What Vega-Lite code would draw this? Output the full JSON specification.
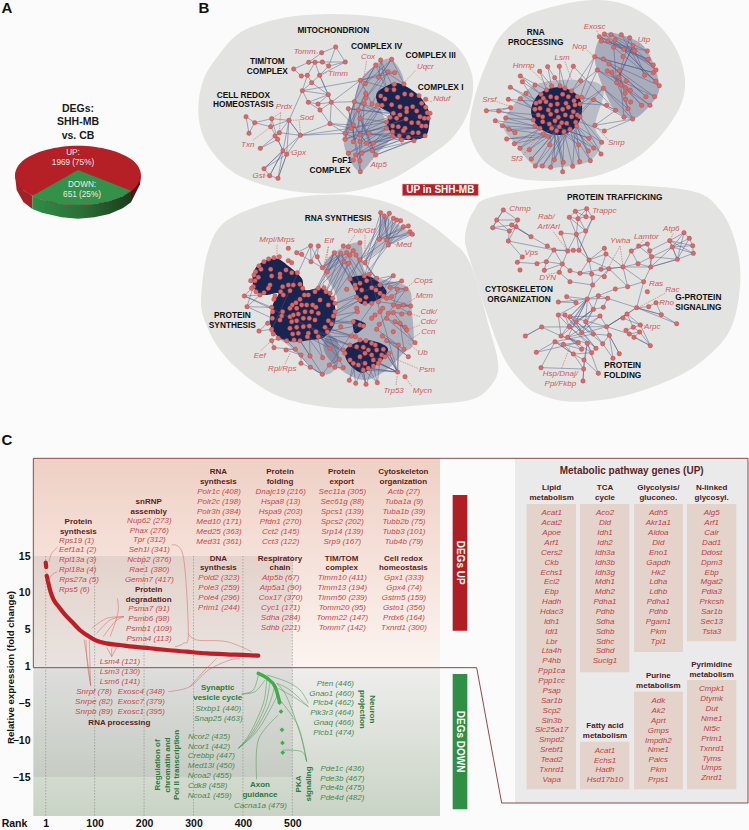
{"$schema":"https://vega.github.io/schema/vega-lite/v6.json","width":749,"height":830,"padding":0,"autosize":{"type":"none"},"background":"#fbfbfb","config":{"view":{"stroke":null},"font":"Liberation Sans"},
"datasets":{
"pieTop":[{"x":423,"y":526},{"x":398,"y":570},{"x":328,"y":603},{"x":234,"y":615},{"x":140,"y":603},{"x":70,"y":570},{"x":45,"y":526},{"x":70,"y":481},{"x":140,"y":449},{"x":234,"y":437},{"x":328,"y":449},{"x":398,"y":481}],
"pieWedge":[{"x":234,"y":510},{"x":97,"y":587},{"x":126,"y":599},{"x":185,"y":612},{"x":234,"y":615},{"x":283,"y":612},{"x":328,"y":603},{"x":368,"y":589},{"x":393,"y":572}],
"pieSideG":[{"x":97,"y":587},{"x":126,"y":599},{"x":185,"y":612},{"x":234,"y":615},{"x":283,"y":612},{"x":328,"y":603},{"x":368,"y":589},{"x":393,"y":572},{"x":393,"y":607},{"x":368,"y":625},{"x":328,"y":642},{"x":283,"y":652},{"x":234,"y":656},{"x":185,"y":652},{"x":126,"y":638},{"x":97,"y":627}],
"pieSideL":[{"x":45,"y":526},{"x":70,"y":570},{"x":97,"y":587},{"x":97,"y":627},{"x":70,"y":606},{"x":50,"y":570}],
"pieSideR":[{"x":393,"y":572},{"x":423,"y":526},{"x":420,"y":553},{"x":393,"y":607}],
"pieHead":[{"label":"DEGs:","x":234,"y":328},{"label":"SHH-MB","x":234,"y":367},{"label":"vs. CB","x":234,"y":407}],
"pieText":[{"label":"UP:","x":219,"y":458},{"label":"1969 (75%)","x":219,"y":488},{"label":"DOWN:","x":246,"y":556},{"label":"651 (25%)","x":246,"y":585}],
"letters":[{"label":"A","x":21,"y":25},{"label":"B","x":612,"y":25},{"label":"C","x":21,"y":1320}],
"hull1":[{"x":200,"y":75},{"x":300,"y":50},{"x":430,"y":42},{"x":560,"y":50},{"x":680,"y":75},{"x":790,"y":130},{"x":845,"y":220},{"x":840,"y":320},{"x":790,"y":410},{"x":700,"y":480},{"x":600,"y":540},{"x":480,"y":575},{"x":350,"y":578},{"x":220,"y":555},{"x":120,"y":510},{"x":50,"y":430},{"x":25,"y":340},{"x":40,"y":240},{"x":90,"y":160},{"x":140,"y":105}],
"hull2":[{"x":300,"y":15},{"x":400,"y":0},{"x":500,"y":15},{"x":590,"y":70},{"x":650,"y":150},{"x":675,"y":240},{"x":660,"y":320},{"x":600,"y":410},{"x":520,"y":480},{"x":420,"y":525},{"x":300,"y":542},{"x":170,"y":535},{"x":80,"y":490},{"x":35,"y":420},{"x":30,"y":360},{"x":50,"y":270},{"x":80,"y":190},{"x":120,"y":110},{"x":190,"y":50}],
"hull3":[{"x":100,"y":100},{"x":200,"y":50},{"x":330,"y":20},{"x":480,"y":15},{"x":600,"y":40},{"x":700,"y":90},{"x":780,"y":150},{"x":840,"y":220},{"x":900,"y":420},{"x":925,"y":530},{"x":900,"y":590},{"x":840,"y":630},{"x":700,"y":645},{"x":550,"y":655},{"x":400,"y":650},{"x":270,"y":620},{"x":170,"y":560},{"x":90,"y":480},{"x":40,"y":380},{"x":35,"y":300},{"x":55,"y":180}],
"hull4":[{"x":70,"y":50},{"x":350,"y":15},{"x":650,"y":30},{"x":750,"y":90},{"x":800,"y":200},{"x":810,"y":320},{"x":780,"y":450},{"x":700,"y":540},{"x":600,"y":600},{"x":450,"y":650},{"x":300,"y":665},{"x":200,"y":640},{"x":150,"y":600},{"x":100,"y":530},{"x":50,"y":400},{"x":0,"y":240},{"x":-15,"y":170},{"x":10,"y":95}],
"n1mid":[{"x":511,"y":241},{"x":557,"y":195},{"x":605,"y":178},{"x":640,"y":250},{"x":560,"y":280},{"x":570,"y":320},{"x":590,"y":370},{"x":610,"y":405},{"x":557,"y":465},{"x":510,"y":515},{"x":470,"y":460},{"x":462,"y":400},{"x":490,"y":310}],
"n1core":[{"x":560,"y":280},{"x":610,"y":250},{"x":650,"y":260},{"x":690,"y":290},{"x":715,"y":330},{"x":718,"y":370},{"x":705,"y":410},{"x":650,"y":420},{"x":610,"y":405},{"x":590,"y":370},{"x":600,"y":340},{"x":570,"y":320}],
"n1edge":[{"x":437,"y":141},{"x":395,"y":158},{"x":356,"y":187},{"x":375,"y":187},{"x":397,"y":186},{"x":466,"y":186},{"x":437,"y":141},{"x":416,"y":198},{"x":397,"y":186},{"x":356,"y":187},{"x":311,"y":207},{"x":334,"y":228},{"x":352,"y":226},{"x":375,"y":187},{"x":389,"y":226},{"x":416,"y":198},{"x":466,"y":186},{"x":389,"y":226},{"x":365,"y":248},{"x":352,"y":226},{"x":337,"y":272},{"x":365,"y":248},{"x":415,"y":284},{"x":337,"y":272},{"x":355,"y":307},{"x":384,"y":312},{"x":424,"y":307},{"x":415,"y":284},{"x":389,"y":226},{"x":424,"y":307},{"x":390,"y":330},{"x":355,"y":307},{"x":415,"y":284},{"x":384,"y":312},{"x":390,"y":330},{"x":420,"y":371},{"x":424,"y":307},{"x":511,"y":241},{"x":337,"y":272},{"x":297,"y":361},{"x":331,"y":406},{"x":297,"y":361},{"x":242,"y":380},{"x":245,"y":356},{"x":297,"y":361},{"x":268,"y":398},{"x":255,"y":408},{"x":263,"y":418},{"x":242,"y":380},{"x":194,"y":368},{"x":168,"y":350},{"x":177,"y":400},{"x":194,"y":368},{"x":245,"y":356},{"x":263,"y":418},{"x":211,"y":445},{"x":268,"y":398},{"x":331,"y":406},{"x":279,"y":452},{"x":297,"y":361},{"x":290,"y":463},{"x":279,"y":452},{"x":263,"y":418},{"x":279,"y":452},{"x":222,"y":506},{"x":290,"y":463},{"x":264,"y":535},{"x":239,"y":527},{"x":222,"y":506},{"x":279,"y":452},{"x":239,"y":527},{"x":279,"y":452},{"x":264,"y":535},{"x":290,"y":463},{"x":331,"y":406},{"x":420,"y":371},{"x":465,"y":400},{"x":331,"y":406},{"x":483,"y":385},{"x":420,"y":371},{"x":490,"y":375},{"x":424,"y":307},{"x":493,"y":305},{"x":557,"y":195},{"x":526,"y":251},{"x":605,"y":178},{"x":566,"y":232},{"x":572,"y":180},{"x":511,"y":241},{"x":614,"y":218},{"x":594,"y":215},{"x":527,"y":295},{"x":605,"y":178},{"x":642,"y":252},{"x":557,"y":195},{"x":590,"y":269},{"x":572,"y":180},{"x":612,"y":269},{"x":511,"y":241},{"x":546,"y":312},{"x":594,"y":215},{"x":511,"y":241},{"x":465,"y":400},{"x":527,"y":280},{"x":465,"y":418},{"x":493,"y":305},{"x":490,"y":425},{"x":523,"y":310},{"x":510,"y":482},{"x":475,"y":326},{"x":511,"y":515},{"x":505,"y":330},{"x":557,"y":465},{"x":510,"y":355},{"x":547,"y":452},{"x":490,"y":375},{"x":530,"y":430},{"x":465,"y":400},{"x":590,"y":385},{"x":475,"y":460},{"x":608,"y":395},{"x":497,"y":465},{"x":628,"y":408},{"x":515,"y":460},{"x":655,"y":412},{"x":547,"y":452},{"x":672,"y":422},{"x":557,"y":465},{"x":705,"y":407},{"x":530,"y":430},{"x":668,"y":398},{"x":510,"y":405},{"x":648,"y":357},{"x":465,"y":418},{"x":630,"y":345},{"x":475,"y":326},{"x":610,"y":340},{"x":493,"y":305},{"x":600,"y":352},{"x":483,"y":385},{"x":590,"y":366},{"x":510,"y":355},{"x":563,"y":315},{"x":490,"y":425},{"x":576,"y":316},{"x":510,"y":425},{"x":590,"y":385},{"x":550,"y":430},{"x":608,"y":408},{"x":537,"y":400},{"x":635,"y":420}],
"n1node":[{"x":437,"y":141},{"x":395,"y":158},{"x":356,"y":187},{"x":375,"y":187},{"x":397,"y":186},{"x":466,"y":186},{"x":311,"y":207},{"x":416,"y":198},{"x":334,"y":228},{"x":352,"y":226},{"x":389,"y":226},{"x":365,"y":248},{"x":337,"y":272},{"x":415,"y":284},{"x":355,"y":307},{"x":384,"y":312},{"x":424,"y":307},{"x":390,"y":330},{"x":420,"y":371},{"x":168,"y":350},{"x":194,"y":368},{"x":245,"y":356},{"x":297,"y":361},{"x":242,"y":380},{"x":177,"y":400},{"x":268,"y":398},{"x":255,"y":408},{"x":263,"y":418},{"x":331,"y":406},{"x":211,"y":445},{"x":279,"y":452},{"x":290,"y":463},{"x":222,"y":506},{"x":239,"y":527},{"x":264,"y":535},{"x":557,"y":195},{"x":572,"y":180},{"x":605,"y":178},{"x":594,"y":215},{"x":614,"y":218},{"x":566,"y":232},{"x":511,"y":241},{"x":526,"y":251},{"x":642,"y":252},{"x":613,"y":253},{"x":612,"y":269},{"x":590,"y":269},{"x":572,"y":288},{"x":585,"y":297},{"x":527,"y":280},{"x":527,"y":295},{"x":493,"y":305},{"x":523,"y":310},{"x":563,"y":315},{"x":546,"y":312},{"x":576,"y":316},{"x":605,"y":314},{"x":623,"y":292},{"x":644,"y":282},{"x":664,"y":284},{"x":687,"y":287},{"x":707,"y":298},{"x":695,"y":310},{"x":707,"y":322},{"x":712,"y":338},{"x":720,"y":340},{"x":630,"y":320},{"x":650,"y":325},{"x":668,"y":320},{"x":680,"y":333},{"x":610,"y":340},{"x":630,"y":345},{"x":650,"y":335},{"x":690,"y":350},{"x":703,"y":355},{"x":715,"y":355},{"x":600,"y":352},{"x":620,"y":355},{"x":648,"y":357},{"x":590,"y":366},{"x":608,"y":378},{"x":625,"y":380},{"x":665,"y":368},{"x":685,"y":368},{"x":695,"y":378},{"x":708,"y":378},{"x":590,"y":385},{"x":645,"y":385},{"x":668,"y":398},{"x":685,"y":398},{"x":608,"y":395},{"x":608,"y":408},{"x":640,"y":392},{"x":628,"y":408},{"x":635,"y":420},{"x":655,"y":412},{"x":672,"y":422},{"x":705,"y":407},{"x":475,"y":326},{"x":505,"y":330},{"x":510,"y":355},{"x":490,"y":375},{"x":483,"y":385},{"x":465,"y":400},{"x":510,"y":405},{"x":537,"y":400},{"x":465,"y":418},{"x":490,"y":425},{"x":510,"y":425},{"x":530,"y":430},{"x":550,"y":430},{"x":475,"y":460},{"x":497,"y":465},{"x":515,"y":460},{"x":547,"y":452},{"x":557,"y":465},{"x":510,"y":482},{"x":490,"y":480},{"x":511,"y":515}],
"n1head":[{"label":"MITOCHONDRION","x":430,"y":94},{"label":"COMPLEX IV","x":560,"y":140},{"label":"COMPLEX III","x":722,"y":167},{"label":"COMPLEX I","x":752,"y":265},{"label":"TIM/TOM","x":232,"y":186},{"label":"COMPLEX","x":232,"y":215},{"label":"CELL REDOX","x":160,"y":287},{"label":"HOMEOSTASIS","x":160,"y":316},{"label":"FoF1","x":456,"y":483},{"label":"COMPLEX","x":420,"y":513}],
"n1gene":[{"label":"Tomm","x":344,"y":156},{"label":"Cox","x":534,"y":170},{"label":"Uqcr","x":706,"y":202},{"label":"Nduf","x":755,"y":296},{"label":"Timm","x":444,"y":221},{"label":"Prdx","x":282,"y":322},{"label":"Sod","x":350,"y":354},{"label":"Txn","x":173,"y":436},{"label":"Gpx","x":326,"y":459},{"label":"Gst","x":206,"y":528},{"label":"Atp5","x":566,"y":494}],
"n1lead":[{"x":530,"y":183,"x2":520,"y2":240},{"x":676,"y":212,"x2":640,"y2":250},{"x":725,"y":305,"x2":705,"y2":300},{"x":272,"y":338,"x2":245,"y2":356},{"x":272,"y":338,"x2":268,"y2":398},{"x":328,"y":360,"x2":297,"y2":361},{"x":328,"y":365,"x2":331,"y2":400},{"x":190,"y":420,"x2":240,"y2":382},{"x":372,"y":160,"x2":395,"y2":158},{"x":410,"y":218,"x2":390,"y2":225},{"x":305,"y":455,"x2":290,"y2":462},{"x":222,"y":528,"x2":239,"y2":527},{"x":545,"y":480,"x2":557,"y2":465}],
"upBox":[{"x":637,"y":552,"x2":865,"y2":587}],
"upText":[{"label":"UP in SHH-MB","x":751,"y":569}],
"n2core":[{"x":215,"y":320},{"x":240,"y":280},{"x":290,"y":262},{"x":340,"y":275},{"x":365,"y":310},{"x":360,"y":360},{"x":330,"y":395},{"x":285,"y":405},{"x":240,"y":385},{"x":218,"y":355}],
"n2mid":[{"x":404,"y":170},{"x":433,"y":102},{"x":509,"y":113},{"x":562,"y":153},{"x":598,"y":257},{"x":570,"y":316},{"x":518,"y":357},{"x":467,"y":331},{"x":430,"y":265}],
"n2out":[{"x":150,"y":330},{"x":225,"y":255},{"x":350,"y":240},{"x":430,"y":265},{"x":405,"y":376},{"x":425,"y":427},{"x":390,"y":482},{"x":310,"y":500},{"x":226,"y":498},{"x":165,"y":430},{"x":130,"y":380}],
"n2edge":[{"x":433,"y":102},{"x":491,"y":148},{"x":418,"y":110},{"x":524,"y":152},{"x":453,"y":104},{"x":562,"y":153},{"x":424,"y":123},{"x":565,"y":178},{"x":443,"y":123},{"x":580,"y":195},{"x":465,"y":120},{"x":588,"y":210},{"x":484,"y":104},{"x":554,"y":226},{"x":509,"y":113},{"x":476,"y":231},{"x":519,"y":137},{"x":470,"y":248},{"x":461,"y":142},{"x":587,"y":244},{"x":491,"y":148},{"x":598,"y":257},{"x":404,"y":170},{"x":580,"y":218},{"x":430,"y":177},{"x":558,"y":290},{"x":447,"y":192},{"x":584,"y":290},{"x":412,"y":210},{"x":570,"y":316},{"x":442,"y":213},{"x":545,"y":316},{"x":456,"y":217},{"x":518,"y":357},{"x":430,"y":265},{"x":504,"y":326},{"x":478,"y":212},{"x":492,"y":352},{"x":401,"y":299},{"x":467,"y":331},{"x":440,"y":316},{"x":365,"y":310},{"x":430,"y":265},{"x":350,"y":345},{"x":412,"y":210},{"x":335,"y":273},{"x":404,"y":170},{"x":360,"y":292},{"x":401,"y":299},{"x":345,"y":360},{"x":433,"y":393},{"x":518,"y":357},{"x":405,"y":376},{"x":467,"y":331},{"x":340,"y":199},{"x":315,"y":265},{"x":298,"y":199},{"x":300,"y":258},{"x":263,"y":200},{"x":275,"y":258},{"x":239,"y":214},{"x":260,"y":270},{"x":181,"y":228},{"x":243,"y":283},{"x":187,"y":245},{"x":228,"y":310},{"x":151,"y":262},{"x":240,"y":305},{"x":145,"y":298},{"x":225,"y":328},{"x":181,"y":296},{"x":235,"y":345},{"x":79,"y":332},{"x":152,"y":323},{"x":116,"y":333},{"x":220,"y":360},{"x":137,"y":354},{"x":225,"y":378},{"x":106,"y":362},{"x":165,"y":398},{"x":127,"y":377},{"x":240,"y":385},{"x":147,"y":388},{"x":250,"y":402},{"x":140,"y":417},{"x":263,"y":409},{"x":163,"y":431},{"x":240,"y":385},{"x":180,"y":445},{"x":275,"y":385},{"x":208,"y":449},{"x":290,"y":392},{"x":214,"y":477},{"x":298,"y":380},{"x":226,"y":498},{"x":312,"y":395},{"x":247,"y":498},{"x":330,"y":388},{"x":272,"y":502},{"x":290,"y":392},{"x":308,"y":515},{"x":312,"y":395},{"x":338,"y":499},{"x":347,"y":367},{"x":359,"y":485},{"x":330,"y":388},{"x":391,"y":482},{"x":350,"y":378},{"x":423,"y":462},{"x":360,"y":350},{"x":425,"y":427},{"x":350,"y":378},{"x":385,"y":453},{"x":320,"y":370},{"x":401,"y":444},{"x":312,"y":395},{"x":283,"y":479},{"x":285,"y":362},{"x":310,"y":487},{"x":275,"y":385},{"x":269,"y":434},{"x":298,"y":380},{"x":356,"y":435},{"x":268,"y":372},{"x":387,"y":415},{"x":248,"y":365}],
"n2node":[{"x":433,"y":102},{"x":418,"y":110},{"x":453,"y":104},{"x":484,"y":104},{"x":509,"y":113},{"x":424,"y":123},{"x":443,"y":123},{"x":465,"y":120},{"x":519,"y":137},{"x":461,"y":142},{"x":491,"y":148},{"x":524,"y":152},{"x":562,"y":153},{"x":404,"y":170},{"x":430,"y":177},{"x":489,"y":170},{"x":565,"y":178},{"x":447,"y":192},{"x":580,"y":195},{"x":412,"y":210},{"x":442,"y":213},{"x":456,"y":217},{"x":478,"y":212},{"x":554,"y":226},{"x":580,"y":218},{"x":588,"y":210},{"x":476,"y":231},{"x":499,"y":243},{"x":470,"y":248},{"x":483,"y":255},{"x":587,"y":244},{"x":598,"y":257},{"x":496,"y":264},{"x":511,"y":271},{"x":495,"y":280},{"x":430,"y":265},{"x":558,"y":290},{"x":584,"y":290},{"x":497,"y":298},{"x":512,"y":306},{"x":440,"y":316},{"x":467,"y":331},{"x":504,"y":326},{"x":545,"y":316},{"x":570,"y":316},{"x":492,"y":352},{"x":518,"y":357},{"x":401,"y":299},{"x":239,"y":214},{"x":263,"y":200},{"x":298,"y":199},{"x":340,"y":199},{"x":181,"y":228},{"x":284,"y":233},{"x":187,"y":245},{"x":151,"y":262},{"x":225,"y":255},{"x":362,"y":242},{"x":198,"y":280},{"x":145,"y":298},{"x":181,"y":296},{"x":79,"y":332},{"x":116,"y":333},{"x":152,"y":323},{"x":137,"y":354},{"x":106,"y":362},{"x":127,"y":377},{"x":147,"y":388},{"x":165,"y":398},{"x":140,"y":417},{"x":163,"y":431},{"x":180,"y":445},{"x":208,"y":449},{"x":214,"y":477},{"x":226,"y":498},{"x":247,"y":498},{"x":272,"y":502},{"x":283,"y":479},{"x":308,"y":515},{"x":310,"y":487},{"x":338,"y":499},{"x":359,"y":485},{"x":391,"y":482},{"x":423,"y":462},{"x":385,"y":453},{"x":401,"y":444},{"x":425,"y":427},{"x":433,"y":393},{"x":387,"y":415},{"x":405,"y":376},{"x":269,"y":434},{"x":356,"y":435},{"x":250,"y":402},{"x":263,"y":409},{"x":243,"y":283},{"x":260,"y":270},{"x":275,"y":258},{"x":300,"y":258},{"x":315,"y":265},{"x":335,"y":273},{"x":352,"y":290},{"x":365,"y":292},{"x":250,"y":295},{"x":272,"y":290},{"x":290,"y":293},{"x":308,"y":283},{"x":325,"y":290},{"x":342,"y":302},{"x":240,"y":305},{"x":258,"y":305},{"x":272,"y":315},{"x":292,"y":312},{"x":318,"y":310},{"x":345,"y":315},{"x":360,"y":312},{"x":228,"y":310},{"x":225,"y":328},{"x":240,"y":325},{"x":265,"y":330},{"x":290,"y":333},{"x":308,"y":328},{"x":325,"y":322},{"x":340,"y":335},{"x":352,"y":345},{"x":360,"y":350},{"x":235,"y":345},{"x":248,"y":350},{"x":272,"y":343},{"x":295,"y":352},{"x":316,"y":345},{"x":335,"y":350},{"x":220,"y":360},{"x":248,"y":365},{"x":268,"y":372},{"x":285,"y":362},{"x":305,"y":368},{"x":320,"y":370},{"x":347,"y":367},{"x":225,"y":378},{"x":240,"y":385},{"x":275,"y":385},{"x":290,"y":392},{"x":312,"y":395},{"x":330,"y":388},{"x":298,"y":380},{"x":350,"y":378}],
"n2head":[{"label":"RNA","x":227,"y":100},{"label":"PROCESSING","x":227,"y":130}],
"n2gene":[{"label":"Exosc","x":404,"y":81},{"label":"Utp","x":552,"y":120},{"label":"Nop","x":359,"y":140},{"label":"Lsm","x":306,"y":173},{"label":"Hnrnp","x":191,"y":197},{"label":"Srsf","x":88,"y":301},{"label":"Snrp","x":469,"y":428},{"label":"Sf3","x":170,"y":478}],
"n2lead":[{"x":410,"y":92,"x2":418,"y2":108},{"x":540,"y":130,"x2":525,"y2":150},{"x":380,"y":150,"x2":404,"y2":170},{"x":315,"y":185,"x2":335,"y2":240},{"x":215,"y":210,"x2":260,"y2":255},{"x":110,"y":305,"x2":152,"y2":320},{"x":445,"y":420,"x2":405,"y2":376},{"x":190,"y":465,"x2":225,"y2":420}],
"n3a":[{"x":205,"y":225},{"x":255,"y":205},{"x":295,"y":228},{"x":335,"y":265},{"x":345,"y":300},{"x":395,"y":295},{"x":430,"y":330},{"x":435,"y":395},{"x":405,"y":440},{"x":360,"y":450},{"x":310,"y":455},{"x":265,"y":440},{"x":240,"y":400},{"x":248,"y":345},{"x":265,"y":310},{"x":225,"y":315},{"x":195,"y":300},{"x":188,"y":260}],
"n3b":[{"x":480,"y":265},{"x":540,"y":260},{"x":590,"y":305},{"x":550,"y":335},{"x":510,"y":340},{"x":495,"y":300}],
"n3c":[{"x":475,"y":470},{"x":530,"y":450},{"x":590,"y":470},{"x":585,"y":500},{"x":550,"y":530},{"x":515,"y":548},{"x":480,"y":525},{"x":465,"y":495}],
"n3d":[{"x":490,"y":390},{"x":525,"y":400},{"x":520,"y":415},{"x":495,"y":430}],
"n3m1":[{"x":430,"y":190},{"x":510,"y":160},{"x":530,"y":250},{"x":650,"y":290},{"x":665,"y":360},{"x":670,"y":460},{"x":640,"y":490},{"x":590,"y":540},{"x":520,"y":570},{"x":440,"y":530},{"x":400,"y":470},{"x":430,"y":400},{"x":440,"y":320},{"x":400,"y":240}],
"n3m2":[{"x":570,"y":150},{"x":570,"y":70},{"x":665,"y":130},{"x":595,"y":165},{"x":520,"y":215}],
"n3m3":[{"x":240,"y":420},{"x":300,"y":470},{"x":390,"y":550},{"x":440,"y":530},{"x":440,"y":450},{"x":380,"y":440}],
"n3edge":[{"x":572,"y":68},{"x":568,"y":148},{"x":598,"y":70},{"x":590,"y":150},{"x":583,"y":78},{"x":595,"y":165},{"x":610,"y":85},{"x":568,"y":148},{"x":620,"y":90},{"x":590,"y":150},{"x":632,"y":92},{"x":595,"y":165},{"x":640,"y":110},{"x":568,"y":148},{"x":655,"y":108},{"x":590,"y":150},{"x":660,"y":125},{"x":595,"y":165},{"x":667,"y":133},{"x":568,"y":148},{"x":572,"y":68},{"x":525,"y":218},{"x":598,"y":70},{"x":510,"y":210},{"x":583,"y":78},{"x":523,"y":258},{"x":595,"y":165},{"x":525,"y":218},{"x":568,"y":148},{"x":510,"y":210},{"x":590,"y":150},{"x":538,"y":253},{"x":623,"y":546},{"x":580,"y":478},{"x":623,"y":546},{"x":550,"y":510},{"x":623,"y":546},{"x":597,"y":490},{"x":623,"y":546},{"x":565,"y":520},{"x":623,"y":546},{"x":535,"y":535},{"x":623,"y":546},{"x":625,"y":465},{"x":623,"y":546},{"x":520,"y":540},{"x":528,"y":583},{"x":505,"y":525},{"x":562,"y":578},{"x":525,"y":520},{"x":497,"y":580},{"x":490,"y":520},{"x":478,"y":571},{"x":510,"y":500},{"x":528,"y":583},{"x":550,"y":528},{"x":562,"y":578},{"x":570,"y":510},{"x":163,"y":318},{"x":190,"y":290},{"x":171,"y":350},{"x":210,"y":315},{"x":163,"y":318},{"x":245,"y":352},{"x":171,"y":350},{"x":247,"y":385},{"x":207,"y":423},{"x":245,"y":418},{"x":362,"y":167},{"x":363,"y":215},{"x":385,"y":168},{"x":382,"y":200},{"x":397,"y":233},{"x":362,"y":167},{"x":320,"y":188},{"x":397,"y":233},{"x":433,"y":188},{"x":412,"y":245},{"x":452,"y":190},{"x":397,"y":233},{"x":470,"y":188},{"x":412,"y":245},{"x":490,"y":182},{"x":385,"y":295},{"x":433,"y":188},{"x":375,"y":305},{"x":452,"y":190},{"x":408,"y":305},{"x":462,"y":215},{"x":420,"y":310},{"x":476,"y":220},{"x":428,"y":325},{"x":510,"y":210},{"x":480,"y":267},{"x":433,"y":188},{"x":495,"y":285},{"x":452,"y":190},{"x":510,"y":280},{"x":470,"y":188},{"x":530,"y":272},{"x":498,"y":195},{"x":560,"y":265},{"x":525,"y":218},{"x":570,"y":285},{"x":435,"y":340},{"x":500,"y":322},{"x":435,"y":365},{"x":510,"y":330},{"x":430,"y":378},{"x":502,"y":365},{"x":425,"y":402},{"x":490,"y":395},{"x":415,"y":392},{"x":510,"y":405},{"x":412,"y":425},{"x":485,"y":438},{"x":405,"y":412},{"x":497,"y":440},{"x":385,"y":440},{"x":480,"y":465},{"x":378,"y":425},{"x":465,"y":490},{"x":385,"y":440},{"x":460,"y":480},{"x":412,"y":425},{"x":448,"y":508},{"x":378,"y":425},{"x":398,"y":503},{"x":352,"y":440},{"x":420,"y":475},{"x":358,"y":408},{"x":360,"y":498},{"x":330,"y":452},{"x":397,"y":553},{"x":361,"y":532},{"x":333,"y":520},{"x":333,"y":495},{"x":288,"y":480},{"x":316,"y":478},{"x":252,"y":473},{"x":245,"y":452},{"x":265,"y":445},{"x":290,"y":452},{"x":316,"y":478},{"x":361,"y":532},{"x":397,"y":553},{"x":418,"y":525},{"x":435,"y":532},{"x":460,"y":533},{"x":448,"y":508},{"x":418,"y":525},{"x":610,"y":257},{"x":570,"y":285},{"x":635,"y":273},{"x":600,"y":292},{"x":648,"y":297},{"x":622,"y":298},{"x":610,"y":345},{"x":662,"y":348},{"x":625,"y":350},{"x":658,"y":370},{"x":610,"y":368},{"x":650,"y":420},{"x":615,"y":395},{"x":645,"y":412},{"x":590,"y":385},{"x":675,"y":458},{"x":630,"y":400},{"x":642,"y":478},{"x":577,"y":438},{"x":655,"y":500},{"x":590,"y":452},{"x":625,"y":465},{"x":560,"y":418},{"x":648,"y":297},{"x":590,"y":325},{"x":662,"y":348},{"x":565,"y":335},{"x":635,"y":273},{"x":545,"y":293},{"x":610,"y":257},{"x":530,"y":272}],
"n3node":[{"x":295,"y":175},{"x":320,"y":188},{"x":335,"y":193},{"x":268,"y":200},{"x":252,"y":203},{"x":236,"y":207},{"x":222,"y":215},{"x":207,"y":228},{"x":295,"y":212},{"x":305,"y":218},{"x":242,"y":238},{"x":213,"y":238},{"x":197,"y":245},{"x":192,"y":255},{"x":205,"y":262},{"x":195,"y":272},{"x":182,"y":272},{"x":190,"y":290},{"x":185,"y":295},{"x":198,"y":305},{"x":210,"y":315},{"x":222,"y":308},{"x":163,"y":318},{"x":171,"y":350},{"x":288,"y":240},{"x":305,"y":248},{"x":322,"y":248},{"x":270,"y":252},{"x":270,"y":262},{"x":245,"y":258},{"x":240,"y":285},{"x":235,"y":295},{"x":255,"y":318},{"x":252,"y":328},{"x":278,"y":290},{"x":295,"y":285},{"x":310,"y":285},{"x":330,"y":283},{"x":338,"y":295},{"x":272,"y":305},{"x":280,"y":315},{"x":300,"y":302},{"x":343,"y":315},{"x":355,"y":315},{"x":330,"y":328},{"x":318,"y":338},{"x":307,"y":345},{"x":300,"y":355},{"x":320,"y":355},{"x":335,"y":345},{"x":350,"y":345},{"x":368,"y":345},{"x":378,"y":352},{"x":385,"y":295},{"x":402,"y":293},{"x":375,"y":305},{"x":408,"y":305},{"x":420,"y":310},{"x":428,"y":325},{"x":390,"y":330},{"x":435,"y":340},{"x":415,"y":345},{"x":245,"y":352},{"x":248,"y":365},{"x":278,"y":365},{"x":275,"y":378},{"x":270,"y":390},{"x":247,"y":385},{"x":233,"y":400},{"x":207,"y":423},{"x":245,"y":418},{"x":250,"y":432},{"x":245,"y":452},{"x":252,"y":473},{"x":300,"y":380},{"x":310,"y":375},{"x":325,"y":372},{"x":345,"y":365},{"x":365,"y":365},{"x":385,"y":370},{"x":435,"y":365},{"x":430,"y":378},{"x":415,"y":392},{"x":425,"y":402},{"x":305,"y":395},{"x":320,"y":392},{"x":340,"y":385},{"x":358,"y":385},{"x":375,"y":390},{"x":405,"y":412},{"x":412,"y":425},{"x":300,"y":415},{"x":320,"y":412},{"x":340,"y":410},{"x":358,"y":408},{"x":308,"y":432},{"x":325,"y":430},{"x":355,"y":430},{"x":378,"y":425},{"x":385,"y":440},{"x":312,"y":450},{"x":330,"y":452},{"x":352,"y":440},{"x":290,"y":452},{"x":265,"y":445},{"x":316,"y":478},{"x":288,"y":480},{"x":333,"y":495},{"x":333,"y":520},{"x":361,"y":532},{"x":397,"y":553},{"x":360,"y":498},{"x":398,"y":503},{"x":420,"y":475},{"x":418,"y":525},{"x":435,"y":532},{"x":460,"y":533},{"x":448,"y":508},{"x":460,"y":480},{"x":362,"y":167},{"x":385,"y":168},{"x":382,"y":200},{"x":363,"y":215},{"x":397,"y":233},{"x":412,"y":245},{"x":572,"y":68},{"x":598,"y":70},{"x":583,"y":78},{"x":610,"y":85},{"x":620,"y":90},{"x":632,"y":92},{"x":640,"y":110},{"x":655,"y":108},{"x":660,"y":125},{"x":667,"y":133},{"x":568,"y":148},{"x":590,"y":150},{"x":595,"y":165},{"x":510,"y":158},{"x":460,"y":168},{"x":475,"y":170},{"x":433,"y":188},{"x":452,"y":190},{"x":470,"y":188},{"x":490,"y":182},{"x":498,"y":195},{"x":480,"y":195},{"x":510,"y":210},{"x":462,"y":215},{"x":476,"y":220},{"x":525,"y":218},{"x":523,"y":258},{"x":538,"y":253},{"x":610,"y":257},{"x":635,"y":273},{"x":648,"y":297},{"x":480,"y":267},{"x":560,"y":265},{"x":530,"y":272},{"x":495,"y":285},{"x":510,"y":280},{"x":570,"y":285},{"x":470,"y":298},{"x":498,"y":295},{"x":515,"y":300},{"x":545,"y":293},{"x":558,"y":300},{"x":600,"y":292},{"x":622,"y":298},{"x":570,"y":310},{"x":580,"y":318},{"x":528,"y":322},{"x":500,"y":322},{"x":510,"y":330},{"x":525,"y":340},{"x":545,"y":340},{"x":565,"y":335},{"x":590,"y":325},{"x":605,"y":320},{"x":610,"y":345},{"x":625,"y":350},{"x":640,"y":345},{"x":662,"y":348},{"x":500,"y":355},{"x":502,"y":365},{"x":578,"y":355},{"x":570,"y":365},{"x":595,"y":370},{"x":555,"y":375},{"x":610,"y":368},{"x":635,"y":372},{"x":658,"y":370},{"x":590,"y":385},{"x":545,"y":385},{"x":615,"y":395},{"x":630,"y":400},{"x":645,"y":412},{"x":490,"y":395},{"x":510,"y":405},{"x":520,"y":408},{"x":452,"y":410},{"x":568,"y":403},{"x":560,"y":418},{"x":650,"y":420},{"x":610,"y":425},{"x":485,"y":438},{"x":497,"y":440},{"x":528,"y":452},{"x":577,"y":438},{"x":590,"y":452},{"x":510,"y":450},{"x":545,"y":460},{"x":556,"y":465},{"x":625,"y":465},{"x":642,"y":478},{"x":675,"y":458},{"x":655,"y":500},{"x":480,"y":465},{"x":500,"y":470},{"x":520,"y":472},{"x":535,"y":480},{"x":560,"y":480},{"x":580,"y":478},{"x":597,"y":490},{"x":465,"y":490},{"x":480,"y":510},{"x":510,"y":500},{"x":525,"y":490},{"x":545,"y":495},{"x":575,"y":495},{"x":490,"y":520},{"x":505,"y":525},{"x":525,"y":520},{"x":550,"y":510},{"x":570,"y":510},{"x":585,"y":500},{"x":520,"y":540},{"x":535,"y":535},{"x":550,"y":528},{"x":565,"y":520},{"x":623,"y":546},{"x":645,"y":560},{"x":478,"y":571},{"x":497,"y":580},{"x":528,"y":583},{"x":562,"y":578}],
"n3head":[{"label":"RNA SYNTHESIS","x":445,"y":87},{"label":"PROTEIN","x":127,"y":378},{"label":"SYNTHESIS","x":127,"y":407}],
"n3gene":[{"label":"Polr/Gtf","x":515,"y":123},{"label":"Mrpl/Mrps","x":261,"y":150},{"label":"Eif","x":417,"y":154},{"label":"Med","x":642,"y":166},{"label":"Cops","x":700,"y":272},{"label":"Mcm","x":703,"y":318},{"label":"Cdk/","x":716,"y":366},{"label":"Cdc/","x":716,"y":396},{"label":"Ccn","x":715,"y":426},{"label":"Ub","x":698,"y":489},{"label":"Psm","x":711,"y":541},{"label":"Mycn","x":697,"y":603},{"label":"Trp53","x":611,"y":603},{"label":"Eef","x":209,"y":498},{"label":"Rpl/Rps","x":277,"y":537}],
"n3lead":[{"x":495,"y":135,"x2":470,"y2":170},{"x":525,"y":135,"x2":525,"y2":215},{"x":261,"y":165,"x2":261,"y2":200},{"x":415,"y":170,"x2":400,"y2":233},{"x":415,"y":170,"x2":400,"y2":285},{"x":620,"y":165,"x2":600,"y2":155},{"x":672,"y":275,"x2":648,"y2":295},{"x":675,"y":325,"x2":640,"y2":345},{"x":690,"y":380,"x2":660,"y2":370},{"x":690,"y":405,"x2":650,"y2":420},{"x":690,"y":430,"x2":650,"y2":455},{"x":682,"y":482,"x2":655,"y2":460},{"x":683,"y":535,"x2":600,"y2":500},{"x":665,"y":588,"x2":650,"y2":568},{"x":618,"y":585,"x2":622,"y2":555},{"x":212,"y":482,"x2":245,"y2":452},{"x":285,"y":522,"x2":300,"y2":490}],
"n4edge":[{"x":100,"y":90},{"x":80,"y":120},{"x":143,"y":120},{"x":125,"y":135},{"x":68,"y":143},{"x":100,"y":90},{"x":143,"y":120},{"x":138,"y":140},{"x":118,"y":153},{"x":80,"y":120},{"x":68,"y":143},{"x":118,"y":153},{"x":115,"y":183},{"x":138,"y":140},{"x":183,"y":170},{"x":125,"y":135},{"x":183,"y":170},{"x":232,"y":198},{"x":252,"y":210},{"x":115,"y":183},{"x":157,"y":231},{"x":142,"y":247},{"x":201,"y":251},{"x":229,"y":245},{"x":252,"y":210},{"x":277,"y":252},{"x":229,"y":245},{"x":223,"y":271},{"x":277,"y":252},{"x":293,"y":213},{"x":252,"y":210},{"x":310,"y":211},{"x":327,"y":211},{"x":319,"y":163},{"x":293,"y":213},{"x":273,"y":159},{"x":319,"y":163},{"x":347,"y":153},{"x":316,"y":94},{"x":350,"y":86},{"x":368,"y":113},{"x":348,"y":110},{"x":324,"y":116},{"x":298,"y":112},{"x":316,"y":94},{"x":348,"y":110},{"x":350,"y":86},{"x":324,"y":116},{"x":319,"y":163},{"x":298,"y":112},{"x":347,"y":153},{"x":368,"y":113},{"x":327,"y":211},{"x":357,"y":240},{"x":403,"y":205},{"x":408,"y":222},{"x":357,"y":240},{"x":417,"y":266},{"x":459,"y":261},{"x":408,"y":222},{"x":393,"y":268},{"x":417,"y":266},{"x":403,"y":290},{"x":365,"y":282},{"x":330,"y":280},{"x":300,"y":272},{"x":277,"y":252},{"x":268,"y":277},{"x":300,"y":305},{"x":368,"y":315},{"x":365,"y":282},{"x":357,"y":240},{"x":319,"y":163},{"x":357,"y":240},{"x":330,"y":280},{"x":393,"y":268},{"x":459,"y":261},{"x":484,"y":213},{"x":506,"y":198},{"x":532,"y":192},{"x":539,"y":212},{"x":545,"y":230},{"x":504,"y":251},{"x":484,"y":213},{"x":532,"y":192},{"x":506,"y":198},{"x":545,"y":230},{"x":542,"y":261},{"x":459,"y":261},{"x":504,"y":251},{"x":542,"y":261},{"x":539,"y":212},{"x":599,"y":182},{"x":642,"y":158},{"x":658,"y":175},{"x":668,"y":197},{"x":670,"y":220},{"x":622,"y":238},{"x":607,"y":201},{"x":599,"y":182},{"x":668,"y":197},{"x":607,"y":201},{"x":642,"y":158},{"x":622,"y":238},{"x":658,"y":175},{"x":607,"y":201},{"x":670,"y":220},{"x":599,"y":182},{"x":622,"y":238},{"x":545,"y":230},{"x":607,"y":201},{"x":542,"y":261},{"x":622,"y":238},{"x":542,"y":261},{"x":521,"y":305},{"x":473,"y":320},{"x":436,"y":327},{"x":385,"y":347},{"x":352,"y":357},{"x":368,"y":315},{"x":417,"y":266},{"x":473,"y":320},{"x":459,"y":261},{"x":521,"y":305},{"x":500,"y":383},{"x":413,"y":355},{"x":352,"y":357},{"x":290,"y":350},{"x":318,"y":368},{"x":265,"y":366},{"x":352,"y":357},{"x":370,"y":388},{"x":400,"y":382},{"x":413,"y":355},{"x":385,"y":347},{"x":370,"y":388},{"x":318,"y":425},{"x":352,"y":357},{"x":300,"y":410},{"x":352,"y":357},{"x":347,"y":425},{"x":370,"y":388},{"x":298,"y":440},{"x":352,"y":357},{"x":265,"y":405},{"x":285,"y":405},{"x":335,"y":458},{"x":370,"y":388},{"x":273,"y":468},{"x":352,"y":357},{"x":293,"y":472},{"x":390,"y":408},{"x":410,"y":440},{"x":500,"y":383},{"x":536,"y":380},{"x":558,"y":368},{"x":574,"y":404},{"x":620,"y":431},{"x":500,"y":383},{"x":574,"y":404},{"x":500,"y":383},{"x":471,"y":402},{"x":459,"y":414},{"x":511,"y":435},{"x":490,"y":442},{"x":468,"y":451},{"x":478,"y":462},{"x":509,"y":456},{"x":492,"y":472},{"x":541,"y":497},{"x":511,"y":435},{"x":471,"y":402},{"x":490,"y":442},{"x":509,"y":456},{"x":541,"y":497},{"x":478,"y":462},{"x":410,"y":440},{"x":471,"y":402},{"x":410,"y":440},{"x":215,"y":441},{"x":166,"y":468},{"x":215,"y":441},{"x":273,"y":468},{"x":265,"y":405},{"x":298,"y":440},{"x":285,"y":405},{"x":335,"y":458},{"x":318,"y":425},{"x":370,"y":462},{"x":347,"y":425},{"x":398,"y":491},{"x":300,"y":410},{"x":378,"y":505},{"x":298,"y":440},{"x":352,"y":490},{"x":273,"y":468},{"x":325,"y":488},{"x":293,"y":472},{"x":410,"y":440},{"x":418,"y":466},{"x":398,"y":491},{"x":429,"y":535},{"x":418,"y":466},{"x":448,"y":521},{"x":418,"y":466},{"x":370,"y":462},{"x":255,"y":485},{"x":280,"y":493},{"x":325,"y":488},{"x":199,"y":517},{"x":255,"y":485},{"x":310,"y":522},{"x":280,"y":493},{"x":335,"y":508},{"x":293,"y":472},{"x":365,"y":518},{"x":352,"y":490},{"x":342,"y":540},{"x":310,"y":522},{"x":341,"y":567},{"x":342,"y":540},{"x":385,"y":580},{"x":352,"y":490},{"x":341,"y":567},{"x":339,"y":603},{"x":341,"y":567},{"x":213,"y":563},{"x":255,"y":485},{"x":310,"y":522},{"x":365,"y":518},{"x":378,"y":505},{"x":335,"y":458},{"x":390,"y":408},{"x":300,"y":410},{"x":410,"y":440}],
"n4node":[{"x":100,"y":90},{"x":80,"y":120},{"x":143,"y":120},{"x":125,"y":135},{"x":68,"y":143},{"x":138,"y":140},{"x":118,"y":153},{"x":115,"y":183},{"x":183,"y":170},{"x":232,"y":198},{"x":252,"y":210},{"x":157,"y":231},{"x":142,"y":247},{"x":201,"y":251},{"x":150,"y":270},{"x":229,"y":245},{"x":223,"y":271},{"x":277,"y":252},{"x":293,"y":213},{"x":310,"y":211},{"x":327,"y":211},{"x":319,"y":163},{"x":273,"y":159},{"x":347,"y":153},{"x":316,"y":94},{"x":350,"y":86},{"x":298,"y":112},{"x":324,"y":116},{"x":348,"y":110},{"x":368,"y":113},{"x":268,"y":277},{"x":300,"y":272},{"x":300,"y":305},{"x":330,"y":280},{"x":357,"y":240},{"x":365,"y":282},{"x":393,"y":268},{"x":403,"y":205},{"x":408,"y":222},{"x":403,"y":290},{"x":417,"y":266},{"x":459,"y":261},{"x":484,"y":213},{"x":506,"y":198},{"x":532,"y":192},{"x":539,"y":212},{"x":545,"y":230},{"x":504,"y":251},{"x":542,"y":261},{"x":599,"y":182},{"x":642,"y":158},{"x":658,"y":175},{"x":607,"y":201},{"x":668,"y":197},{"x":670,"y":220},{"x":622,"y":238},{"x":368,"y":315},{"x":436,"y":327},{"x":473,"y":320},{"x":521,"y":305},{"x":532,"y":335},{"x":385,"y":347},{"x":413,"y":355},{"x":352,"y":357},{"x":290,"y":350},{"x":265,"y":366},{"x":318,"y":368},{"x":370,"y":388},{"x":400,"y":382},{"x":500,"y":383},{"x":536,"y":380},{"x":558,"y":368},{"x":574,"y":404},{"x":620,"y":431},{"x":471,"y":402},{"x":459,"y":414},{"x":511,"y":435},{"x":490,"y":442},{"x":468,"y":451},{"x":478,"y":462},{"x":509,"y":456},{"x":492,"y":472},{"x":541,"y":497},{"x":265,"y":405},{"x":285,"y":405},{"x":300,"y":410},{"x":318,"y":425},{"x":347,"y":425},{"x":390,"y":408},{"x":298,"y":440},{"x":335,"y":458},{"x":215,"y":441},{"x":166,"y":468},{"x":273,"y":468},{"x":293,"y":472},{"x":370,"y":462},{"x":410,"y":440},{"x":418,"y":466},{"x":255,"y":485},{"x":280,"y":493},{"x":325,"y":488},{"x":352,"y":490},{"x":378,"y":505},{"x":398,"y":491},{"x":199,"y":517},{"x":310,"y":522},{"x":335,"y":508},{"x":365,"y":518},{"x":342,"y":540},{"x":429,"y":535},{"x":448,"y":521},{"x":213,"y":563},{"x":341,"y":567},{"x":385,"y":580},{"x":339,"y":603}],
"n4head":[{"label":"PROTEIN TRAFFICKING","x":434,"y":55},{"label":"G-PROTEIN","x":685,"y":355},{"label":"SIGNALING","x":685,"y":385},{"label":"CYTOSKELETON","x":147,"y":330},{"label":"ORGANIZATION","x":147,"y":359},{"label":"PROTEIN","x":458,"y":559},{"label":"FOLDING","x":458,"y":588}],
"n4gene":[{"label":"Chmp","x":150,"y":88},{"label":"Trappc","x":403,"y":92},{"label":"Rab/","x":229,"y":110},{"label":"Arf/Arl","x":236,"y":140},{"label":"Atp6","x":604,"y":148},{"label":"Lamtor","x":529,"y":170},{"label":"Ywha","x":451,"y":184},{"label":"Vps","x":184,"y":218},{"label":"DYN","x":233,"y":294},{"label":"Ras","x":558,"y":312},{"label":"Rac","x":607,"y":330},{"label":"Rho","x":590,"y":368},{"label":"Arpc","x":547,"y":440},{"label":"Hsp/Dnaj/","x":271,"y":583},{"label":"Ppi/Fkbp","x":271,"y":612}],
"n4lead":[{"x":250,"y":155,"x2":293,"y2":213},{"x":450,"y":198,"x2":417,"y2":260},{"x":450,"y":198,"x2":459,"y2":258},{"x":170,"y":222,"x2":157,"y2":231},{"x":235,"y":283,"x2":268,"y2":277},{"x":585,"y":340,"x2":510,"y2":380},{"x":570,"y":368,"x2":558,"y2":368},{"x":525,"y":438,"x2":511,"y2":435},{"x":275,"y":565,"x2":300,"y2":500},{"x":610,"y":160,"x2":600,"y2":180},{"x":520,"y":180,"x2":506,"y2":198}],
"cBox":[{"x":100,"y":55,"x2":1320,"y2":682}],"cBox2":[{"x":100,"y":684,"x2":1320,"y2":1128}],
"metaPanel":[{"x":1545,"y":55,"x2":2244,"y2":1089}],
"outline":[{"x":100,"y":55},{"x":100,"y":683},{"x":1430,"y":683},{"x":1505,"y":1089},{"x":2244,"y":1089},{"x":2244,"y":55},{"x":100,"y":55}],
"bars":[{"name":"DEGs UP","x":1358,"y":165,"x2":1402,"y2":572,"tx":1380,"ty":368,"state":"up"},{"name":"DEGs DOWN","x":1358,"y":702,"x2":1402,"y2":1108,"tx":1380,"ty":905,"state":"down"}],
"overlay":[{"rank":-24,"rankEnd":500,"fold":15,"foldEnd":1},{"rank":-24,"rankEnd":500,"fold":1,"foldEnd":-15}],
"rules":[{"rank":1,"fold":15,"foldEnd":-20.35},{"rank":100,"fold":15,"foldEnd":-20.35},{"rank":200,"fold":15,"foldEnd":-20.35},{"rank":300,"fold":15,"foldEnd":-20.35},{"rank":400,"fold":15,"foldEnd":-20.35},{"rank":500,"fold":15,"foldEnd":-20.35}],
"curveUp":[{"rank":1,"fold":14.1,"part":"a"},{"rank":2,"fold":13.5,"part":"a"},{"rank":3,"fold":12.3,"part":"b"},{"rank":5,"fold":11.7,"part":"b"},{"rank":10,"fold":10.3,"part":"b"},{"rank":16.5,"fold":9.1,"part":"b"},{"rank":27,"fold":8.1,"part":"b"},{"rank":40,"fold":7,"part":"b"},{"rank":54,"fold":6.05,"part":"b"},{"rank":70,"fold":4.95,"part":"b"},{"rank":84,"fold":4.4,"part":"b"},{"rank":101,"fold":3.86,"part":"b"},{"rank":124,"fold":3.5,"part":"b"},{"rank":151,"fold":3.32,"part":"b"},{"rank":178,"fold":3.14,"part":"b"},{"rank":212,"fold":2.97,"part":"b"},{"rank":246,"fold":2.78,"part":"b"},{"rank":286,"fold":2.6,"part":"b"},{"rank":327,"fold":2.42,"part":"b"},{"rank":367,"fold":2.32,"part":"b"},{"rank":408,"fold":2.24,"part":"b"},{"rank":431,"fold":2.17,"part":"b"}],
"curveDown":[{"rank":431,"fold":-1.4},{"rank":448,"fold":-1.95},{"rank":465,"fold":-3},{"rank":474,"fold":-4.8}],
"pointsDown":[{"rank":474,"fold":-4.9},{"rank":477,"fold":-6.1},{"rank":479,"fold":-8.6},{"rank":480,"fold":-10.4},{"rank":480.5,"fold":-11.7}],
"cLead":[{"g":"a","x":172,"y":322},{"g":"a","x":155,"y":340},{"g":"a","x":147,"y":365},{"g":"b","x":172,"y":395},{"g":"b","x":155,"y":405},{"g":"b","x":145,"y":425},{"g":"c","x":272,"y":737},{"g":"c","x":265,"y":680},{"g":"c","x":252,"y":598},{"g":"d","x":272,"y":737},{"g":"d","x":262,"y":670},{"g":"d","x":258,"y":600},{"g":"e","x":272,"y":737},{"g":"e","x":270,"y":680},{"g":"e","x":268,"y":600},{"g":"f","x":335,"y":650},{"g":"f","x":320,"y":622},{"g":"g","x":335,"y":650},{"g":"g","x":335,"y":625},{"g":"h","x":335,"y":650},{"g":"h","x":350,"y":622},{"g":"i","x":372,"y":530},{"g":"i","x":320,"y":535},{"g":"i","x":275,"y":565},{"g":"j","x":372,"y":530},{"g":"j","x":330,"y":540},{"g":"j","x":290,"y":580},{"g":"k","x":372,"y":530},{"g":"k","x":345,"y":545},{"g":"k","x":310,"y":590},{"g":"l","x":352,"y":475},{"g":"l","x":355,"y":510},{"g":"l","x":345,"y":550},{"g":"l","x":330,"y":590},{"g":"m","x":515,"y":315},{"g":"m","x":550,"y":350},{"g":"m","x":565,"y":580},{"g":"m","x":550,"y":610},{"g":"m","x":525,"y":620},{"g":"n","x":565,"y":580},{"g":"n","x":590,"y":600},{"g":"n","x":680,"y":605},{"g":"n","x":755,"y":635},{"g":"o","x":505,"y":755},{"g":"o","x":570,"y":740},{"g":"o","x":625,"y":690},{"g":"o","x":690,"y":660},{"g":"o","x":720,"y":657},{"g":"p","x":570,"y":740},{"g":"p","x":610,"y":695},{"g":"p","x":650,"y":655}],
"cLeadG":[{"g":"a","x":725,"y":762},{"g":"a","x":760,"y":750},{"g":"a","x":775,"y":705},{"g":"a2","x":725,"y":762},{"g":"a2","x":765,"y":755},{"g":"a2","x":795,"y":720},{"g":"b","x":715,"y":925},{"g":"b","x":750,"y":880},{"g":"b","x":790,"y":790},{"g":"b","x":800,"y":720},{"g":"c","x":715,"y":925},{"g":"c","x":755,"y":880},{"g":"c","x":795,"y":800},{"g":"c","x":810,"y":725},{"g":"d","x":715,"y":925},{"g":"d","x":760,"y":880},{"g":"d","x":805,"y":800},{"g":"d","x":825,"y":735},{"g":"d2","x":715,"y":925},{"g":"d2","x":770,"y":875},{"g":"d2","x":815,"y":800},{"g":"d2","x":835,"y":760},{"g":"e","x":925,"y":790},{"g":"e","x":900,"y":750},{"g":"e","x":860,"y":725},{"g":"e","x":800,"y":705},{"g":"f","x":925,"y":800},{"g":"f","x":870,"y":750},{"g":"f","x":830,"y":730},{"g":"f2","x":925,"y":800},{"g":"f2","x":880,"y":770},{"g":"f2","x":835,"y":745},{"g":"g","x":920,"y":965},{"g":"g","x":900,"y":880},{"g":"g","x":860,"y":770},{"g":"g","x":830,"y":730},{"g":"g2","x":920,"y":965},{"g":"g2","x":895,"y":860},{"g":"g2","x":840,"y":780},{"g":"h","x":920,"y":965},{"g":"h","x":905,"y":935},{"g":"h","x":850,"y":930},{"g":"i","x":770,"y":1018},{"g":"i","x":775,"y":900},{"g":"i","x":835,"y":825}],
"cRed":[{"label":"Rps19 (1)","x":230,"y":302},{"label":"Eef1a1 (2)","x":233,"y":331},{"label":"Rpl13a (3)","x":233,"y":361},{"label":"Rpl18a (4)","x":233,"y":390},{"label":"Rps27a (5)","x":237,"y":420},{"label":"Rps5 (6)","x":223,"y":450},{"label":"Nup62 (273)","x":448,"y":242},{"label":"Phax (276)","x":448,"y":272},{"label":"Tpr (312)","x":448,"y":301},{"label":"Seh1l (341)","x":448,"y":331},{"label":"Ncbp2 (376)","x":448,"y":361},{"label":"Rae1 (380)","x":448,"y":390},{"label":"Gemin7 (417)","x":448,"y":420},{"label":"Psma7 (91)","x":447,"y":508},{"label":"Psmb6 (98)","x":447,"y":537},{"label":"Psmb1 (109)","x":447,"y":567},{"label":"Psma4 (113)","x":447,"y":597},{"label":"Polr1c (408)","x":657,"y":157},{"label":"Polr2c (198)","x":657,"y":186},{"label":"Polr3h (384)","x":657,"y":216},{"label":"Med10 (171)","x":657,"y":246},{"label":"Med25 (363)","x":657,"y":275},{"label":"Med31 (361)","x":657,"y":305},{"label":"Pold2 (323)","x":657,"y":415},{"label":"Pole3 (259)","x":657,"y":445},{"label":"Pole4 (296)","x":657,"y":475},{"label":"Prim1 (244)","x":657,"y":504},{"label":"Dnajc19 (216)","x":842,"y":157},{"label":"Hspa8 (13)","x":842,"y":186},{"label":"Hspa9 (203)","x":842,"y":216},{"label":"Pfdn1 (270)","x":842,"y":246},{"label":"Cct2 (145)","x":842,"y":275},{"label":"Cct3 (122)","x":842,"y":305},{"label":"Atp5b (67)","x":842,"y":415},{"label":"Atp5a1 (90)","x":842,"y":445},{"label":"Cox17 (370)","x":842,"y":475},{"label":"Cyc1 (171)","x":842,"y":504},{"label":"Sdha (284)","x":842,"y":534},{"label":"Sdhb (221)","x":842,"y":564},{"label":"Sec11a (305)","x":1027,"y":157},{"label":"Sec61g (88)","x":1027,"y":186},{"label":"Spcs1 (139)","x":1027,"y":216},{"label":"Spcs2 (202)","x":1027,"y":246},{"label":"Srp14 (139)","x":1027,"y":275},{"label":"Srp9 (167)","x":1027,"y":305},{"label":"Timm10 (411)","x":1027,"y":415},{"label":"Timm13 (194)","x":1027,"y":445},{"label":"Timm50 (239)","x":1027,"y":475},{"label":"Tomm20 (95)","x":1027,"y":504},{"label":"Tomm22 (147)","x":1027,"y":534},{"label":"Tomm7 (142)","x":1027,"y":564},{"label":"Actb (27)","x":1212,"y":157},{"label":"Tuba1a (9)","x":1212,"y":186},{"label":"Tuba1b (39)","x":1212,"y":216},{"label":"Tubb2b (75)","x":1212,"y":246},{"label":"Tubb3 (101)","x":1212,"y":275},{"label":"Tub4b (79)","x":1212,"y":305},{"label":"Gpx1 (333)","x":1212,"y":415},{"label":"Gpx4 (74)","x":1212,"y":445},{"label":"Gstm5 (159)","x":1212,"y":475},{"label":"Gsto1 (356)","x":1212,"y":504},{"label":"Prdx6 (164)","x":1212,"y":534},{"label":"Txnrd1 (300)","x":1212,"y":564},{"label":"Lsm4 (121)","x":360,"y":667},{"label":"Lsm3 (130)","x":360,"y":697},{"label":"Lsm6 (141)","x":360,"y":726},{"label":"Snrpf (78)","x":282,"y":756},{"label":"Snrpe (82)","x":282,"y":786},{"label":"Snrpb (89)","x":282,"y":815},{"label":"Exosc4 (348)","x":424,"y":756},{"label":"Exosc7 (379)","x":424,"y":786},{"label":"Exosc1 (395)","x":424,"y":815}],
"cRedHead":[{"label":"Protein","x":235,"y":245},{"label":"synthesis","x":235,"y":275},{"label":"snRNP","x":446,"y":185},{"label":"assembly","x":446,"y":215},{"label":"Protein","x":446,"y":451},{"label":"degradation","x":446,"y":481},{"label":"RNA","x":655,"y":97},{"label":"synthesis","x":655,"y":126},{"label":"DNA","x":655,"y":356},{"label":"synthesis","x":655,"y":385},{"label":"Protein","x":840,"y":97},{"label":"folding","x":840,"y":126},{"label":"Respiratory","x":840,"y":356},{"label":"chain","x":840,"y":385},{"label":"Protein","x":1025,"y":97},{"label":"export","x":1025,"y":126},{"label":"TIM/TOM","x":1025,"y":356},{"label":"complex","x":1025,"y":385},{"label":"Cytoskeleton","x":1210,"y":97},{"label":"organization","x":1210,"y":126},{"label":"Cell redox","x":1210,"y":356},{"label":"homeostasis","x":1210,"y":385},{"label":"RNA processing","x":358,"y":848}],
"cGreen":[{"label":"Stxbp1 (440)","x":655,"y":807},{"label":"Snap25 (463)","x":655,"y":837},{"label":"Ncor2 (435)","x":627,"y":890},{"label":"Ncor1 (442)","x":627,"y":920},{"label":"Crebbp (447)","x":634,"y":949},{"label":"Med13l (450)","x":634,"y":979},{"label":"Ncoa2 (455)","x":629,"y":1008},{"label":"Cdk8 (458)","x":623,"y":1038},{"label":"Ncoa1 (459)","x":629,"y":1068},{"label":"Cacna1a (479)","x":781,"y":1097},{"label":"Pten (446)","x":1006,"y":731},{"label":"Gnao1 (460)","x":995,"y":761},{"label":"Plcb4 (462)","x":1000,"y":790},{"label":"Pik3r3 (464)","x":996,"y":820},{"label":"Gnaq (466)","x":1001,"y":850},{"label":"Plcb1 (474)","x":1001,"y":879},{"label":"Pde1c (436)","x":1027,"y":986},{"label":"Pde3b (467)","x":1027,"y":1016},{"label":"Pde4b (475)","x":1027,"y":1045},{"label":"Pde4d (482)","x":1027,"y":1075}],
"cGreenHead":[{"label":"Synaptic","x":653,"y":745},{"label":"vesicle cycle","x":653,"y":775},{"label":"Axon","x":780,"y":1036},{"label":"guidance","x":780,"y":1066}],
"cGreenUp":[{"label":"Regulation of","x":473,"y":975},{"label":"chromatin and","x":503,"y":975},{"label":"Pol II transcription","x":532,"y":975},{"label":"PKA","x":897,"y":1032},{"label":"signaling","x":928,"y":1032}],
"cGreenDown":[{"label":"Neuron","x":1115,"y":808},{"label":"projection","x":1085,"y":808}],
"metaBox":[{"x":80,"y":162,"x2":228,"y2":1018},{"x":240,"y":162,"x2":388,"y2":667},{"x":240,"y":875,"x2":388,"y2":1018},{"x":402,"y":162,"x2":549,"y2":606},{"x":402,"y":725,"x2":549,"y2":1018},{"x":561,"y":162,"x2":709,"y2":574},{"x":561,"y":690,"x2":709,"y2":1018}],
"metaTitle":[{"label":"Metabolic pathway genes (UP)","x":395,"y":62}],
"metaHead":[{"label":"Lipid","x":155,"y":115},{"label":"metabolism","x":155,"y":145},{"label":"TCA","x":315,"y":115},{"label":"cycle","x":315,"y":145},{"label":"Glycolysis/","x":475,"y":115},{"label":"gluconeo.","x":475,"y":145},{"label":"N-linked","x":635,"y":115},{"label":"glycosyl.","x":635,"y":145},{"label":"Fatty acid","x":315,"y":828},{"label":"metabolism","x":315,"y":858},{"label":"Purine","x":475,"y":679},{"label":"metabolism","x":475,"y":709},{"label":"Pyrimidine","x":635,"y":645},{"label":"metabolism","x":635,"y":675}],
"metaGene":[{"label":"Acat1","x":155,"y":190},{"label":"Acat2","x":155,"y":219},{"label":"Apoe","x":155,"y":249},{"label":"Arf1","x":155,"y":279},{"label":"Cers2","x":155,"y":308},{"label":"Ckb","x":155,"y":338},{"label":"Echs1","x":155,"y":368},{"label":"Eci2","x":155,"y":397},{"label":"Ebp","x":155,"y":427},{"label":"Hadh","x":155,"y":456},{"label":"Hdac3","x":155,"y":486},{"label":"Idh1","x":155,"y":516},{"label":"Idi1","x":155,"y":545},{"label":"Lbr","x":155,"y":575},{"label":"Lta4h","x":155,"y":604},{"label":"P4hb","x":155,"y":634},{"label":"Ppp1ca","x":155,"y":664},{"label":"Ppp1cc","x":155,"y":693},{"label":"Psap","x":155,"y":723},{"label":"Sar1b","x":155,"y":752},{"label":"Scp2","x":155,"y":782},{"label":"Sin3b","x":155,"y":812},{"label":"Slc25a17","x":155,"y":841},{"label":"Smpd2","x":155,"y":871},{"label":"Srebf1","x":155,"y":900},{"label":"Tead2","x":155,"y":930},{"label":"Txnrd1","x":155,"y":960},{"label":"Vapa","x":155,"y":989},{"label":"Aco2","x":315,"y":190},{"label":"Dld","x":315,"y":219},{"label":"Idh1","x":315,"y":249},{"label":"Idh2","x":315,"y":279},{"label":"Idh3a","x":315,"y":308},{"label":"Idh3b","x":315,"y":338},{"label":"Idh3g","x":315,"y":368},{"label":"Mdh1","x":315,"y":397},{"label":"Mdh2","x":315,"y":427},{"label":"Pdha1","x":315,"y":456},{"label":"Pdhb","x":315,"y":486},{"label":"Sdha","x":315,"y":516},{"label":"Sdhb","x":315,"y":545},{"label":"Sdhc","x":315,"y":575},{"label":"Sdhd","x":315,"y":604},{"label":"Suclg1","x":315,"y":634},{"label":"Acat1","x":315,"y":902},{"label":"Echs1","x":315,"y":932},{"label":"Hadh","x":315,"y":961},{"label":"Hsd17b10","x":315,"y":991},{"label":"Adh5","x":475,"y":190},{"label":"Akr1a1","x":475,"y":219},{"label":"Aldoa","x":475,"y":249},{"label":"Dld","x":475,"y":279},{"label":"Eno1","x":475,"y":308},{"label":"Gapdh","x":475,"y":338},{"label":"Hk2","x":475,"y":368},{"label":"Ldha","x":475,"y":397},{"label":"Ldhb","x":475,"y":427},{"label":"Pdha1","x":475,"y":456},{"label":"Pdhb","x":475,"y":486},{"label":"Pgam1","x":475,"y":516},{"label":"Pkm","x":475,"y":545},{"label":"Tpi1","x":475,"y":575},{"label":"Adk","x":475,"y":753},{"label":"Ak2","x":475,"y":783},{"label":"Aprt","x":475,"y":812},{"label":"Gmps","x":475,"y":842},{"label":"Impdh2","x":475,"y":872},{"label":"Nme1","x":475,"y":901},{"label":"Paics","x":475,"y":931},{"label":"Pkm","x":475,"y":960},{"label":"Prps1","x":475,"y":990},{"label":"Alg5","x":635,"y":190},{"label":"Arf1","x":635,"y":219},{"label":"Calr","x":635,"y":249},{"label":"Dad1","x":635,"y":279},{"label":"Ddost","x":635,"y":308},{"label":"Dpm3","x":635,"y":338},{"label":"Ebp","x":635,"y":368},{"label":"Mgat2","x":635,"y":397},{"label":"Pdia3","x":635,"y":427},{"label":"Prkcsh","x":635,"y":456},{"label":"Sar1b","x":635,"y":486},{"label":"Sec13","x":635,"y":516},{"label":"Tsta3","x":635,"y":545},{"label":"Cmpk1","x":635,"y":718},{"label":"Dtymk","x":635,"y":748},{"label":"Dut","x":635,"y":777},{"label":"Nme1","x":635,"y":807},{"label":"Nt5c","x":635,"y":837},{"label":"Prim1","x":635,"y":866},{"label":"Txnrd1","x":635,"y":896},{"label":"Tyms","x":635,"y":926},{"label":"Umps","x":635,"y":955},{"label":"Znrd1","x":635,"y":985}]
},
"resolve":{"scale":{"x":"independent","y":"independent"}},
"layer":[
{"encoding":{"x":{"field":"x","type":"quantitative","scale":{"domain":[0,2247],"range":[0,749],"nice":false,"zero":false},"axis":null},"y":{"field":"y","type":"quantitative","scale":{"domain":[0,2490],"range":[0,830],"nice":false,"zero":false},"axis":null},"order":{"field":"i","type":"quantitative"}},
"layer":[
{"data":{"name":"pieSideL"},"transform":[{"window":[{"op":"row_number","as":"i"}]}],"mark":{"type":"line","fill":"#a32027","stroke":null}},
{"data":{"name":"pieSideR"},"transform":[{"window":[{"op":"row_number","as":"i"}]}],"mark":{"type":"line","fill":"#531214","stroke":null}},
{"data":{"name":"pieSideG"},"transform":[{"window":[{"op":"row_number","as":"i"}]}],"mark":{"type":"line","stroke":null,"fill":{"gradient":"linear","x1":0,"y1":0,"x2":1,"y2":0,"stops":[{"offset":0,"color":"#2f8d45"},{"offset":0.5,"color":"#2a6f36"},{"offset":1,"color":"#1b3d1c"}]}}},
{"data":{"name":"pieTop"},"transform":[{"window":[{"op":"row_number","as":"i"}]}],"mark":{"type":"line","fill":"#b51f26","stroke":null,"interpolate":"cardinal-closed"}},
{"data":{"name":"pieWedge"},"transform":[{"window":[{"op":"row_number","as":"i"}]}],"mark":{"type":"line","fill":"#34914a","stroke":null}},
{"data":{"name":"pieHead"},"mark":{"type":"text","fontWeight":"bold","fontSize":10.5,"color":"#1a1a1a"},"encoding":{"text":{"field":"label"},"order":null}},
{"data":{"name":"pieText"},"mark":{"type":"text","fontSize":8.2,"color":"#f4e9e6"},"encoding":{"text":{"field":"label"},"order":null}},
{"data":{"name":"letters"},"mark":{"type":"text","fontWeight":"bold","fontSize":15,"color":"#111"},"encoding":{"text":{"field":"label"},"order":null}}
]},
{"encoding":{"x":{"field":"x","type":"quantitative","scale":{"domain":[-570,1677],"range":[0,749],"nice":false,"zero":false},"axis":null},"y":{"field":"y","type":"quantitative","scale":{"domain":[0,2490],"range":[0,830],"nice":false,"zero":false},"axis":null}},
"layer":[
{"data":{"name":"hull1"},"transform":[{"window":[{"op":"row_number","as":"i"}]}],"mark":{"type":"line","fill":"#e3e3e1","stroke":null,"interpolate":"cardinal-closed"},"encoding":{"order":{"field":"i","type":"quantitative"}}},
{"data":{"name":"n1mid"},"transform":[{"window":[{"op":"row_number","as":"i"}]}],"mark":{"type":"line","fill":"#26305f","fillOpacity":0.28,"stroke":null,"interpolate":"cardinal-closed"},"encoding":{"order":{"field":"i","type":"quantitative"}}},
{"data":{"name":"n1core"},"transform":[{"window":[{"op":"row_number","as":"i"}]}],"mark":{"type":"line","fill":"#1a2450","stroke":null,"interpolate":"cardinal-closed"},"encoding":{"order":{"field":"i","type":"quantitative"}}},
{"data":{"name":"n1edge"},"transform":[{"window":[{"op":"row_number","as":"i"}]}],"mark":{"type":"line","stroke":"#4c5888","strokeWidth":0.6,"opacity":0.8},"encoding":{"order":{"field":"i","type":"quantitative"}}},
{"data":{"name":"n1lead"},"mark":{"type":"rule","stroke":"#d0615f","strokeWidth":0.6,"strokeDash":[1.5,1]},"encoding":{"x2":{"field":"x2"},"y2":{"field":"y2"}}},
{"data":{"name":"n1node"},"mark":{"type":"point","filled":true,"size":20,"fill":"#da6a68","stroke":"#a94a4a","strokeWidth":0.4,"opacity":1}},
{"data":{"name":"upBox"},"mark":{"type":"rect","fill":"#b51f26","stroke":"#e8b9b9","strokeWidth":0.5},"encoding":{"x2":{"field":"x2"},"y2":{"field":"y2"}}},
{"data":{"name":"upText"},"mark":{"type":"text","fontWeight":"bold","fontSize":10,"color":"#ffffff"},"encoding":{"text":{"field":"label"}}},
{"data":{"name":"n1head"},"mark":{"type":"text","fontWeight":"bold","fontSize":8.3,"color":"#111"},"encoding":{"text":{"field":"label"}}},
{"data":{"name":"n1gene"},"mark":{"type":"text","fontStyle":"italic","fontSize":8,"color":"#cf5a5a"},"encoding":{"text":{"field":"label"}}}
]},
{"encoding":{"x":{"field":"x","type":"quantitative","scale":{"domain":[-1380,867],"range":[0,749],"nice":false,"zero":false},"axis":null},"y":{"field":"y","type":"quantitative","scale":{"domain":[0,2490],"range":[0,830],"nice":false,"zero":false},"axis":null}},
"layer":[
{"data":{"name":"hull2"},"transform":[{"window":[{"op":"row_number","as":"i"}]}],"mark":{"type":"line","fill":"#e3e3e1","stroke":null,"interpolate":"cardinal-closed"},"encoding":{"order":{"field":"i","type":"quantitative"}}},
{"data":{"name":"n2out"},"transform":[{"window":[{"op":"row_number","as":"i"}]}],"mark":{"type":"line","fill":"#26305f","fillOpacity":0.22,"stroke":null,"interpolate":"cardinal-closed"},"encoding":{"order":{"field":"i","type":"quantitative"}}},
{"data":{"name":"n2mid"},"transform":[{"window":[{"op":"row_number","as":"i"}]}],"mark":{"type":"line","fill":"#26305f","fillOpacity":0.3,"stroke":null,"interpolate":"cardinal-closed"},"encoding":{"order":{"field":"i","type":"quantitative"}}},
{"data":{"name":"n2core"},"transform":[{"window":[{"op":"row_number","as":"i"}]}],"mark":{"type":"line","fill":"#1a2450","stroke":null,"interpolate":"cardinal-closed"},"encoding":{"order":{"field":"i","type":"quantitative"}}},
{"data":{"name":"n2edge"},"transform":[{"window":[{"op":"row_number","as":"i"}]}],"mark":{"type":"line","stroke":"#4c5888","strokeWidth":0.6,"opacity":0.8},"encoding":{"order":{"field":"i","type":"quantitative"}}},
{"data":{"name":"n2lead"},"mark":{"type":"rule","stroke":"#d0615f","strokeWidth":0.6,"strokeDash":[1.5,1]},"encoding":{"x2":{"field":"x2"},"y2":{"field":"y2"}}},
{"data":{"name":"n2node"},"mark":{"type":"point","filled":true,"size":20,"fill":"#da6a68","stroke":"#a94a4a","strokeWidth":0.4,"opacity":1}},
{"data":{"name":"n2head"},"mark":{"type":"text","fontWeight":"bold","fontSize":8.3,"color":"#111"},"encoding":{"text":{"field":"label"}}},
{"data":{"name":"n2gene"},"mark":{"type":"text","fontStyle":"italic","fontSize":8,"color":"#cf5a5a"},"encoding":{"text":{"field":"label"}}}
]},
{"encoding":{"x":{"field":"x","type":"quantitative","scale":{"domain":[-570,1677],"range":[0,749],"nice":false,"zero":false},"axis":null},"y":{"field":"y","type":"quantitative","scale":{"domain":[-570,1920],"range":[0,830],"nice":false,"zero":false},"axis":null}},
"layer":[
{"data":{"name":"hull3"},"transform":[{"window":[{"op":"row_number","as":"i"}]}],"mark":{"type":"line","fill":"#e3e3e1","stroke":null,"interpolate":"cardinal-closed"},"encoding":{"order":{"field":"i","type":"quantitative"}}},
{"data":{"name":"n3m1"},"transform":[{"window":[{"op":"row_number","as":"i"}]}],"mark":{"type":"line","fill":"#26305f","fillOpacity":0.28,"stroke":null,"interpolate":"cardinal-closed"},"encoding":{"order":{"field":"i","type":"quantitative"}}},
{"data":{"name":"n3m2"},"transform":[{"window":[{"op":"row_number","as":"i"}]}],"mark":{"type":"line","fill":"#26305f","fillOpacity":0.2,"stroke":null},"encoding":{"order":{"field":"i","type":"quantitative"}}},
{"data":{"name":"n3m3"},"transform":[{"window":[{"op":"row_number","as":"i"}]}],"mark":{"type":"line","fill":"#26305f","fillOpacity":0.25,"stroke":null,"interpolate":"cardinal-closed"},"encoding":{"order":{"field":"i","type":"quantitative"}}},
{"data":{"name":"n3a"},"transform":[{"window":[{"op":"row_number","as":"i"}]}],"mark":{"type":"line","fill":"#1a2450","stroke":null,"interpolate":"cardinal-closed"},"encoding":{"order":{"field":"i","type":"quantitative"}}},
{"data":{"name":"n3b"},"transform":[{"window":[{"op":"row_number","as":"i"}]}],"mark":{"type":"line","fill":"#1a2450","stroke":null,"interpolate":"cardinal-closed"},"encoding":{"order":{"field":"i","type":"quantitative"}}},
{"data":{"name":"n3c"},"transform":[{"window":[{"op":"row_number","as":"i"}]}],"mark":{"type":"line","fill":"#1a2450","stroke":null,"interpolate":"cardinal-closed"},"encoding":{"order":{"field":"i","type":"quantitative"}}},
{"data":{"name":"n3d"},"transform":[{"window":[{"op":"row_number","as":"i"}]}],"mark":{"type":"line","fill":"#1a2450","stroke":null,"interpolate":"cardinal-closed"},"encoding":{"order":{"field":"i","type":"quantitative"}}},
{"data":{"name":"n3edge"},"transform":[{"window":[{"op":"row_number","as":"i"}]}],"mark":{"type":"line","stroke":"#4c5888","strokeWidth":0.6,"opacity":0.8},"encoding":{"order":{"field":"i","type":"quantitative"}}},
{"data":{"name":"n3lead"},"mark":{"type":"rule","stroke":"#d0615f","strokeWidth":0.6,"strokeDash":[1.5,1]},"encoding":{"x2":{"field":"x2"},"y2":{"field":"y2"}}},
{"data":{"name":"n3node"},"mark":{"type":"point","filled":true,"size":20,"fill":"#da6a68","stroke":"#a94a4a","strokeWidth":0.4,"opacity":1}},
{"data":{"name":"n3head"},"mark":{"type":"text","fontWeight":"bold","fontSize":8.3,"color":"#111"},"encoding":{"text":{"field":"label"}}},
{"data":{"name":"n3gene"},"mark":{"type":"text","fontStyle":"italic","fontSize":8,"color":"#cf5a5a"},"encoding":{"text":{"field":"label"}}}
]},
{"encoding":{"x":{"field":"x","type":"quantitative","scale":{"domain":[-1410,837],"range":[0,749],"nice":false,"zero":false},"axis":null},"y":{"field":"y","type":"quantitative","scale":{"domain":[-540,1950],"range":[0,830],"nice":false,"zero":false},"axis":null}},
"layer":[
{"data":{"name":"hull4"},"transform":[{"window":[{"op":"row_number","as":"i"}]}],"mark":{"type":"line","fill":"#e3e3e1","stroke":null,"interpolate":"cardinal-closed"},"encoding":{"order":{"field":"i","type":"quantitative"}}},
{"data":{"name":"n4edge"},"transform":[{"window":[{"op":"row_number","as":"i"}]}],"mark":{"type":"line","stroke":"#4c5888","strokeWidth":0.6,"opacity":0.8},"encoding":{"order":{"field":"i","type":"quantitative"}}},
{"data":{"name":"n4lead"},"mark":{"type":"rule","stroke":"#d0615f","strokeWidth":0.6,"strokeDash":[1.5,1]},"encoding":{"x2":{"field":"x2"},"y2":{"field":"y2"}}},
{"data":{"name":"n4node"},"mark":{"type":"point","filled":true,"size":20,"fill":"#da6a68","stroke":"#a94a4a","strokeWidth":0.4,"opacity":1}},
{"data":{"name":"n4head"},"mark":{"type":"text","fontWeight":"bold","fontSize":8.3,"color":"#111"},"encoding":{"text":{"field":"label"}}},
{"data":{"name":"n4gene"},"mark":{"type":"text","fontStyle":"italic","fontSize":8,"color":"#cf5a5a"},"encoding":{"text":{"field":"label"}}}
]},
{"encoding":{"x":{"field":"x","type":"quantitative","scale":{"domain":[0,2247],"range":[0,749],"nice":false,"zero":false},"axis":null},"y":{"field":"y","type":"quantitative","scale":{"domain":[-1320,1170],"range":[0,830],"nice":false,"zero":false},"axis":null}},
"layer":[
{"data":{"name":"cBox"},"mark":{"type":"rect","fill":{"gradient":"linear","x1":0,"y1":0,"x2":0,"y2":1,"stops":[{"offset":0,"color":"#efd0c4"},{"offset":1,"color":"#fbf4f0"}]}},"encoding":{"x2":{"field":"x2"},"y2":{"field":"y2"}}},
{"data":{"name":"cBox2"},"mark":{"type":"rect","fill":{"gradient":"linear","x1":0,"y1":0,"x2":0,"y2":1,"stops":[{"offset":0,"color":"#eeeeec"},{"offset":1,"color":"#c9d3c5"}]}},"encoding":{"x2":{"field":"x2"},"y2":{"field":"y2"}}},
{"data":{"name":"metaPanel"},"mark":{"type":"rect","fill":"#eaeaea"},"encoding":{"x2":{"field":"x2"},"y2":{"field":"y2"}}},
{"data":{"name":"outline"},"transform":[{"window":[{"op":"row_number","as":"i"}]}],"mark":{"type":"line","stroke":"#8f4a4a","strokeWidth":1},"encoding":{"order":{"field":"i","type":"quantitative"}}}
]},
{"encoding":{"x":{"field":"rank","type":"quantitative","scale":{"domain":[-91.45,1423.8],"range":[0,749],"nice":false,"zero":false},"axis":{"orient":"bottom","offset":-14,"values":[1,100,200,300,400,500],"format":"d","domain":false,"ticks":false,"grid":false,"labelPadding":2,"labelFontSize":10.5,"labelFontWeight":"bold","labelColor":"#111","title":"Rank","titleFontSize":10.5,"titleFontWeight":"bold","titleColor":"#111","titleX":14,"titleY":7,"titleBaseline":"middle"}},"y":{"field":"fold","type":"quantitative","scale":{"domain":[15,10,5,1,-1,-5,-10,-15,-20.35],"range":[556,592.5,629.5,666.5,670,703.5,740,777,816],"nice":false,"zero":false},"axis":{"orient":"left","offset":-33,"values":[15,10,5,1,-5,-10,-15],"domain":false,"ticks":false,"grid":false,"labelPadding":3,"labelFontSize":10.5,"labelFontWeight":"bold","labelColor":"#111","title":"Relative expression (fold change)","titleFontSize":9.6,"titleFontWeight":"bold","titleColor":"#111","titleX":-23,"titleY":667,"titleAngle":-90,"titleBaseline":"middle"}}},
"layer":[
{"data":{"name":"overlay"},"mark":{"type":"rect","fill":"#777777","opacity":0.13},"encoding":{"x2":{"field":"rankEnd"},"y2":{"field":"foldEnd"}}},
{"data":{"name":"rules"},"mark":{"type":"rule","stroke":"#8a8a8a","strokeWidth":0.6,"strokeDash":[1.5,1.5]},"encoding":{"y2":{"field":"foldEnd"}}},
{"data":{"name":"curveUp"},"mark":{"type":"line","stroke":"#bf1e26","strokeWidth":4.2,"interpolate":"monotone","strokeCap":"round"},"encoding":{"detail":{"field":"part"}}},
{"data":{"name":"curveDown"},"mark":{"type":"line","stroke":"#3cb045","strokeWidth":3.5,"interpolate":"monotone","strokeCap":"round"}},
{"data":{"name":"pointsDown"},"mark":{"type":"point","shape":"diamond","filled":true,"size":22,"fill":"#3cb045","stroke":null,"opacity":1}}
]},
{"encoding":{"x":{"field":"x","type":"quantitative","scale":{"domain":[0,2247],"range":[0,749],"nice":false,"zero":false},"axis":null},"y":{"field":"y","type":"quantitative","scale":{"domain":[-1320,1170],"range":[0,830],"nice":false,"zero":false},"axis":null}},
"layer":[
{"data":{"name":"cLead"},"transform":[{"window":[{"op":"row_number","as":"i"}]}],"mark":{"type":"line","stroke":"#d2605e","strokeWidth":0.5,"interpolate":"cardinal"},"encoding":{"detail":{"field":"g"},"order":{"field":"i","type":"quantitative"}}},
{"data":{"name":"cLeadG"},"transform":[{"window":[{"op":"row_number","as":"i"}]}],"mark":{"type":"line","stroke":"#3f9450","strokeWidth":0.5,"interpolate":"cardinal"},"encoding":{"detail":{"field":"g"},"order":{"field":"i","type":"quantitative"}}},
{"data":{"name":"cRed"},"mark":{"type":"text","fontStyle":"italic","fontSize":8,"color":"#c9474c"},"encoding":{"text":{"field":"label"}}},
{"data":{"name":"cRedHead"},"mark":{"type":"text","fontWeight":"bold","fontSize":8,"color":"#5b1f22"},"encoding":{"text":{"field":"label"}}},
{"data":{"name":"cGreen"},"mark":{"type":"text","fontStyle":"italic","fontSize":8,"color":"#3f8a4f"},"encoding":{"text":{"field":"label"}}},
{"data":{"name":"cGreenHead"},"mark":{"type":"text","fontWeight":"bold","fontSize":8,"color":"#2b7a3c"},"encoding":{"text":{"field":"label"}}},
{"data":{"name":"cGreenUp"},"mark":{"type":"text","fontWeight":"bold","fontSize":8,"color":"#2b7a3c","angle":270},"encoding":{"text":{"field":"label"}}},
{"data":{"name":"cGreenDown"},"mark":{"type":"text","fontWeight":"bold","fontSize":8,"color":"#2b7a3c","angle":90},"encoding":{"text":{"field":"label"}}},
{"data":{"name":"bars"},"mark":{"type":"rect"},"encoding":{"x2":{"field":"x2"},"y2":{"field":"y2"},"color":{"field":"state","type":"nominal","legend":null,"scale":{"domain":["up","down"],"range":["#b01e24","#2f8f45"]}}}},
{"data":{"name":"bars"},"mark":{"type":"text","fontWeight":"bold","fontSize":10,"color":"#ffffff","angle":90},"encoding":{"x":{"field":"tx","type":"quantitative"},"y":{"field":"ty","type":"quantitative"},"text":{"field":"name"}}}
]},
{"encoding":{"x":{"field":"x","type":"quantitative","scale":{"domain":[-1500,747],"range":[0,749],"nice":false,"zero":false},"axis":null},"y":{"field":"y","type":"quantitative","scale":{"domain":[-1350,1140],"range":[0,830],"nice":false,"zero":false},"axis":null}},
"layer":[
{"data":{"name":"metaBox"},"mark":{"type":"rect","fill":"#e3d3cb"},"encoding":{"x2":{"field":"x2"},"y2":{"field":"y2"}}},
{"data":{"name":"metaTitle"},"mark":{"type":"text","fontWeight":"bold","fontSize":10,"color":"#5b1f26"},"encoding":{"text":{"field":"label"}}},
{"data":{"name":"metaHead"},"mark":{"type":"text","fontWeight":"bold","fontSize":8,"color":"#4a2024"},"encoding":{"text":{"field":"label"}}},
{"data":{"name":"metaGene"},"mark":{"type":"text","fontStyle":"italic","fontSize":8,"color":"#c43c44"},"encoding":{"text":{"field":"label"}}}
]}
]}
